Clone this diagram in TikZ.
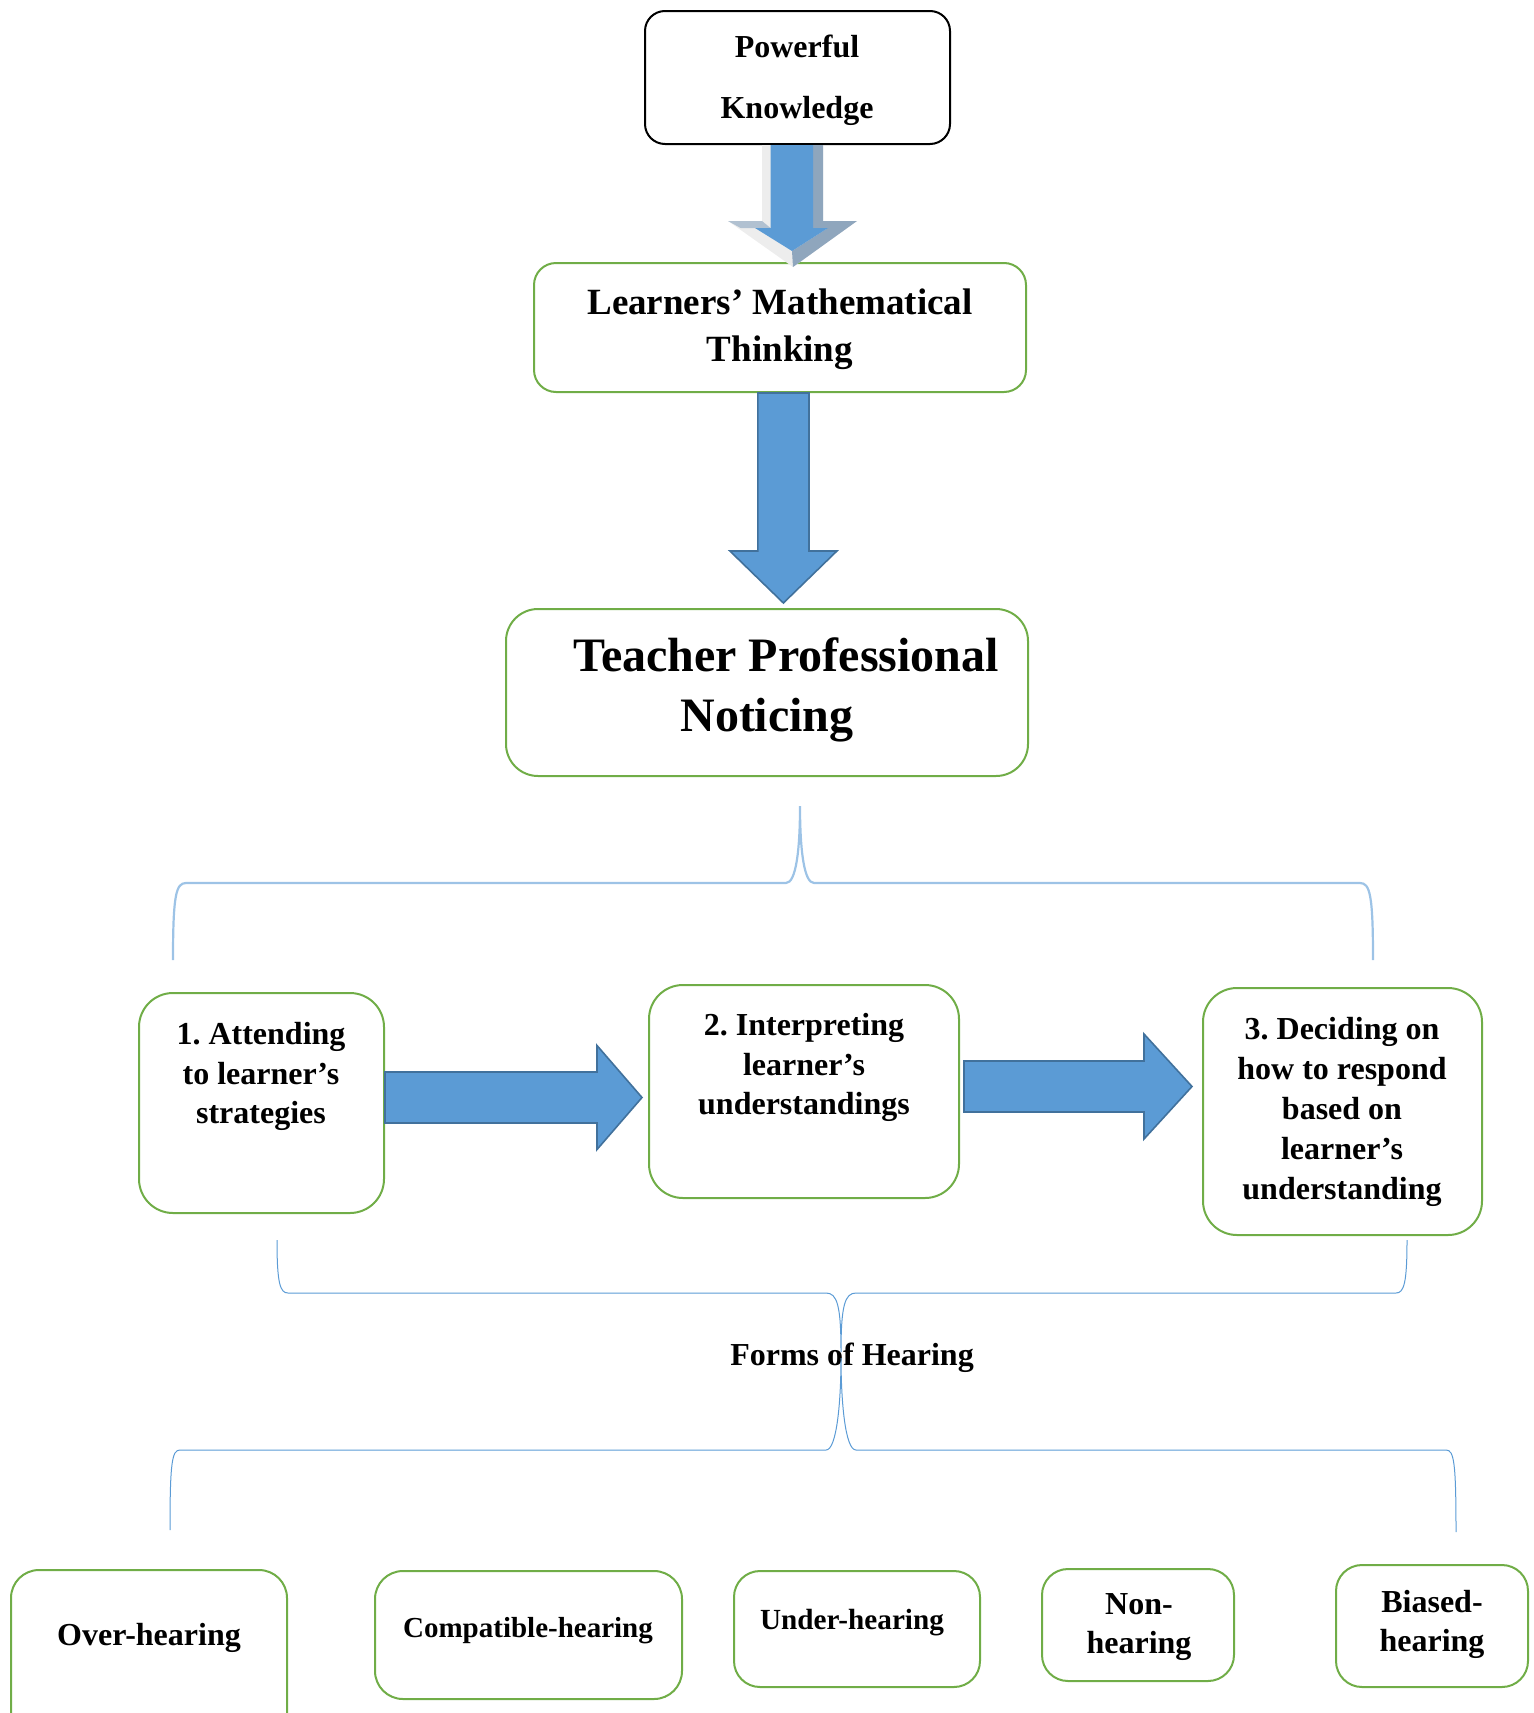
\documentclass[tikz,border=0pt]{standalone}
\usepackage{fontspec}
\setmainfont{Liberation Serif}
\usetikzlibrary{calc}

\definecolor{boxgreen}{HTML}{70AD47}
\definecolor{arrowblue}{HTML}{5B9BD5}
\definecolor{arrowedge}{HTML}{41719C}
\definecolor{bracelight}{HTML}{9DC3E6}
\definecolor{bracemid}{HTML}{5B9BD5}
\definecolor{bevellight}{HTML}{EDEDED}
\definecolor{beveldark}{HTML}{8FA6BD}

% bold text at a given size and line spacing
\newcommand\fsz[2]{\fontsize{#1}{#2}\selectfont\bfseries}

\tikzset{
  gbox/.style={draw=boxgreen, line width=1pt, rounded corners=#1, inner sep=0pt},
  gbox/.default=14pt,
  txt/.style={align=center, inner sep=0pt},
  blockarrow/.style={fill=arrowblue, draw=arrowedge, line width=0.8pt, line join=miter},
  bracewide/.style={draw=bracelight, line width=1.1pt},
  bracethin/.style={draw=bracemid, line width=0.5pt},
}

% block arrow pointing right: tail, tip, shaft half-width, head half-width, head length
\newcommand\rightblock[5]{%
  \filldraw[blockarrow] let \p1=(#1), \p2=(#2) in
    (\x1,\y1+#3) -- (\x2-#5,\y1+#3) -- (\x2-#5,\y1+#4) -- (\x2,\y1)
    -- (\x2-#5,\y1-#4) -- (\x2-#5,\y1-#3) -- (\x1,\y1-#3) -- cycle;}
% block arrow pointing down: tail, tip, shaft half-width, head half-width, head length
\newcommand\downblock[5]{%
  \filldraw[blockarrow] let \p1=(#1), \p2=(#2) in
    (\x1-#3,\y1) -- (\x1-#3,\y2+#5) -- (\x1-#4,\y2+#5) -- (\x1,\y2)
    -- (\x1+#4,\y2+#5) -- (\x1+#3,\y2+#5) -- (\x1+#3,\y1) -- cycle;}

\begin{document}
\frenchspacing
\begin{tikzpicture}[x=0.5pt,y=-0.5pt]
\useasboundingbox (0,0) rectangle (1533,1713);
\clip (0,0) rectangle (1533,1713);

% ---- boxes ----
\node[gbox=10pt, draw=black, minimum width=152.5pt, minimum height=66.5pt] (pk) at (797.5,77.5) {};
\node[txt, font=\fsz{16}{30.5}] (pkt) at (797,80.5) {Powerful\\Knowledge};

\node[gbox=11pt, minimum width=246pt, minimum height=64.5pt] (learn) at (780,327.5) {};
\node[txt, font=\fsz{18.5}{23.5}] (learnt) at (780,329.5) {Learners’ Mathematical\\Thinking};

\node[gbox=16pt, minimum width=261pt, minimum height=83.5pt] (teach) at (767,692.5) {};
\node[txt, font=\fsz{24}{30}] (teacht) at (767,690) {\hspace*{19pt}Teacher Professional\\Noticing};

\node[gbox=17pt, minimum width=122.5pt, minimum height=110pt] (box1) at (261.5,1103) {};
\node[txt, font=\fsz{16}{19.75}] (box1t) at (261,1076.5) {1. Attending\\to learner’s\\strategies};

\node[gbox=17pt, minimum width=155pt, minimum height=106.5pt] (box2) at (804,1091.5) {};
\node[txt, font=\fsz{16}{19.75}] (box2t) at (804,1067.5) {2. Interpreting\\learner’s\\understandings};

\node[gbox=17pt, minimum width=139.5pt, minimum height=123.5pt] (box3) at (1342.5,1111.5) {};
\node[txt, font=\fsz{16}{20}] (box3t) at (1342,1112) {3. Deciding on\\how to respond\\based on\\learner’s\\understanding};

\node[gbox=14pt, minimum width=138pt, minimum height=95pt] (over) at (149,1665) {};
\node[txt, font=\fsz{16}{20}] (overt) at (149,1638) {Over-hearing};

\node[gbox=14pt, minimum width=153.5pt, minimum height=64pt] (compat) at (528.5,1635) {};
\node[txt, font=\fsz{14.5}{18}] (compatt) at (528,1631) {Compatible-hearing};

\node[gbox=13pt, minimum width=123pt, minimum height=58pt] (under) at (857,1629) {};
\node[txt, font=\fsz{14.6}{18}] (undert) at (852,1623) {Under-hearing};

\node[gbox=13pt, minimum width=96pt, minimum height=56pt] (non) at (1138,1625) {};
\node[txt, font=\fsz{16}{19.5}] (nont) at (1139,1627.5) {Non-\\hearing};

\node[gbox=13pt, minimum width=96pt, minimum height=61pt] (biased) at (1432,1626) {};
\node[txt, font=\fsz{16}{19.5}] (biasedt) at (1432,1624.5) {Biased-\\hearing};

% ---- bevelled arrow from Powerful Knowledge ----
\coordinate (toptail) at (pk.south -| 792.5,0);
\begin{scope}[shift={(toptail)}]
  \fill[bevellight] (-30.5,0) -- (-30.5,76) -- (-64.5,76) -- (0.5,122) -- (64.5,76) -- (30.5,76) -- (30.5,0) -- cycle;
  \fill[beveldark] (20.5,0) -- (30.5,0) -- (30.5,76) -- (64.5,76) -- (0.5,122) -- (-0.5,106) -- (35.5,83) -- (20.5,83) -- cycle;
  \fill[beveldark!70] (-64.5,76) -- (-30.5,76) -- (-22,83) -- (-52,83) -- cycle;
  \fill[arrowblue] (-22,0) -- (-22,83) -- (-37.5,83) -- (-0.5,106) -- (35.5,83) -- (20.5,83) -- (20.5,0) -- cycle;
\end{scope}

% ---- block arrows ----
\coordinate (bigtail) at (learn.south -| 783.4,0);
\coordinate (bigtip) at ($(teach.north -| 783.4,0)+(0,-5)$);
\downblock{bigtail}{bigtip}{12.8pt}{26.75pt}{26pt}

\coordinate (a1tail) at (box1.east |- 0,1097.5);
\coordinate (a1tip) at ($(box2.west |- 0,1097.5)+(-6,0)$);
\rightblock{a1tail}{a1tip}{12.75pt}{26pt}{22.5pt}

\coordinate (a2tail) at ($(box2.east |- 0,1086.5)+(4,0)$);
\coordinate (a2tip) at ($(box3.west |- 0,1086.5)+(-10,0)$);
\rightblock{a2tail}{a2tip}{12.75pt}{26.25pt}{24pt}

% ---- braces ----
\coordinate (b1tip) at (800,806);
\draw[bracewide] (173,960) .. controls (173,895) and (176,883) .. (186,883) -- (786,883)
  .. controls (796,883) and (800,850) .. (b1tip)
  .. controls (800,850) and (804,883) .. (814,883) -- (1360,883)
  .. controls (1370,883) and (1373,895) .. (1373,960);

\node[txt, font=\fsz{16}{20}] (forms) at (852,1358) {Forms of Hearing};

\coordinate (b2tip) at (841,1352);
\draw[bracethin] (277,1240) .. controls (277,1283) and (280,1293) .. (288,1293) -- (826,1293)
  .. controls (837,1293) and (841,1305) .. (b2tip)
  .. controls (841,1305) and (845,1293) .. (856,1293) -- (1396,1293)
  .. controls (1404,1293) and (1407,1283) .. (1407,1240);

\coordinate (b3tip) at (841,1358);
\draw[bracethin] (170,1530) .. controls (170,1462) and (172,1450) .. (180,1450) -- (826,1450)
  .. controls (837,1450) and (841,1400) .. (b3tip)
  .. controls (841,1400) and (845,1450) .. (856,1450) -- (1446,1450)
  .. controls (1454,1450) and (1456,1462) .. (1456,1532);
\end{tikzpicture}
\end{document}
